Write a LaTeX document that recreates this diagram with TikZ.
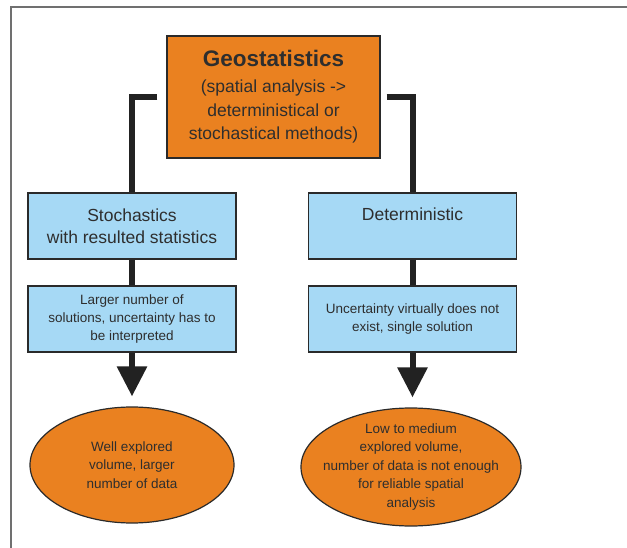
\documentclass[tikz,border=0pt]{standalone}
\usepackage{fontspec}
\setmainfont{Liberation Sans}
\usetikzlibrary{arrows.meta,shapes.geometric}
\definecolor{orangefill}{HTML}{EA8120}
\definecolor{bluefill}{HTML}{A6D9F5}
\definecolor{edgec}{HTML}{2A2A2A}
\definecolor{textc}{HTML}{2E2E2E}
\definecolor{framec}{HTML}{707070}
\definecolor{connc}{HTML}{222222}
\begin{document}
\begin{tikzpicture}[x=1pt,y=-1pt,
  geobox/.style={draw=edgec, line width=1.3pt, fill=orangefill, text=textc,
    minimum width=213pt, minimum height=122pt, inner sep=0pt, align=center,
    font=\fontsize{17.5}{23.5}\selectfont},
  bluebox/.style={draw=edgec, line width=1.2pt, fill=bluefill, text=textc,
    minimum width=208pt, minimum height=66pt, inner sep=0pt, align=center,
    font=\fontsize{17.5}{22}\selectfont},
  bluebox2/.style={bluebox, font=\fontsize{13.5}{18}\selectfont},
  ell/.style={ellipse, draw=edgec, line width=1.2pt, fill=orangefill, text=textc,
    inner sep=-18pt, align=center, font=\fontsize{13.5}{18.5}\selectfont},
  conn/.style={draw=connc, line width=6pt},
  arrowline/.style={conn, -{Triangle[width=29pt,length=30pt]}, shorten >=10pt}
]
\useasboundingbox (0,0) rectangle (627,548);
\draw[framec, line width=1.5pt] (11,548) -- (11,7) -- (627,7);

\node[geobox] (geo) at (273.5,97) {{\fontsize{22.5}{26}\selectfont\bfseries Geostatistics}\\[2.5pt]
  (spatial analysis ->\\
  deterministical or\\
  stochastical methods)};

\node[bluebox] (sto) at (132,226) {Stochastics\\with resulted statistics};
\node[bluebox, text depth=24pt] (det) at (412.5,226) {Deterministic};
\node[bluebox2] (sto2) at (132,319) {Larger number of\\solutions, uncertainty has to\\be interpreted};
\node[bluebox2] (det2) at (412.5,319) {Uncertainty virtually does not\\exist, single solution};

\node[ell, minimum width=204pt, minimum height=116pt] (ell1) at (132,465)
  {Well explored\\volume, larger\\number of data};
\node[ell, minimum width=220pt, minimum height=118pt] (ell2) at (411,467)
  {Low to medium\\explored volume,\\number of data is not enough\\for reliable spatial\\analysis};

\draw[conn, shorten <=9pt] (geo.west) -| (sto.north);
\draw[conn, shorten <=6pt] (geo.east) -| (det.north);
\draw[conn] (sto) -- (sto2);
\draw[conn] (det) -- (det2);
\draw[arrowline] (sto2) -- (ell1);
\draw[arrowline] (det2.south) -- (det2.south |- ell2.north);
\end{tikzpicture}
\end{document}
